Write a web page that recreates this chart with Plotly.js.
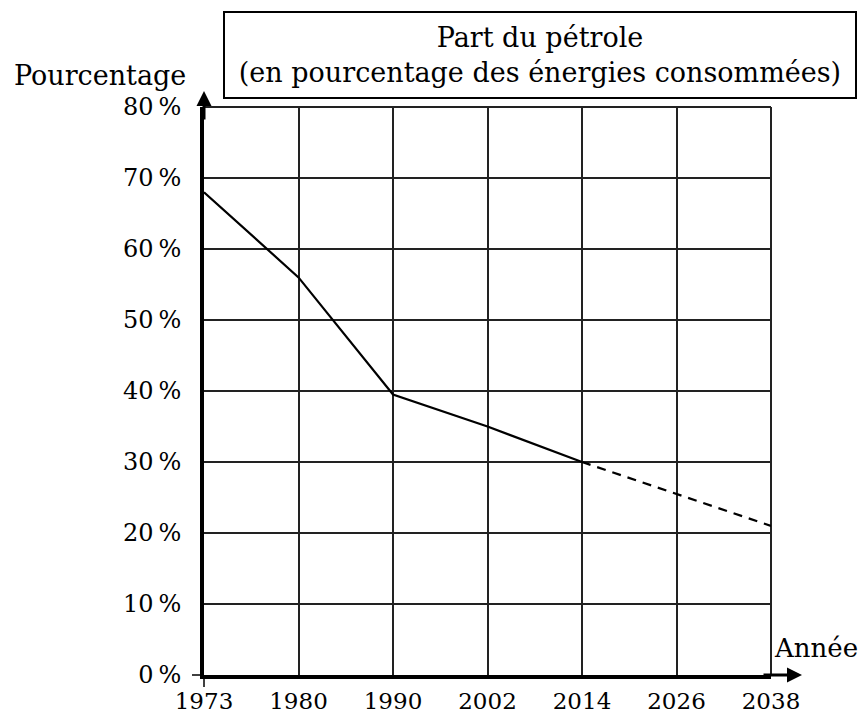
<!DOCTYPE html>
<html>
<head>
<meta charset="utf-8">
<script src="https://cdn.plot.ly/plotly-3.0.1.min.js"></script>
<style>html,body{margin:0;padding:0;background:#fff;}#chart{width:866px;height:713px;}</style>
</head>
<body>
<div id="chart"></div>
<script>
// Data
var years = ['1973', '1980', '1990', '2002', '2014', '2026', '2038'];
var observedYears = ['1973', '1980', '1990', '2002', '2014'];
var observedShare = [68, 56, 39.5, 35, 30];
var projectedYears = ['2014', '2026', '2038'];
var projectedShare = [30, 25.5, 21];
var yTicks = [0, 10, 20, 30, 40, 50, 60, 70, 80];

var FONT = 'DejaVu Serif, serif';
var L = 204, R = 95, T = 107, B = 38;
var W = 866 - L - R, H = 713 - T - B;
function px(xp) { return (xp - L) / W; }
function py(yp) { return (713 - B - yp) / H; }

var traces = [
  {x: observedYears, y: observedShare, type: 'scatter', mode: 'lines',
   line: {color: '#000', width: 2.2}, hoverinfo: 'x+y', showlegend: false},
  {x: projectedYears, y: projectedShare, type: 'scatter', mode: 'lines',
   line: {color: '#000', width: 2.2, dash: '9px,7px'}, hoverinfo: 'x+y', showlegend: false}
];

var layout = {
  width: 866, height: 713,
  margin: {l: L, r: R, t: T, b: B, pad: 0},
  paper_bgcolor: '#fff', plot_bgcolor: '#fff',
  font: {family: FONT, color: '#000', size: 23},
  showlegend: false,
  xaxis: {
    type: 'category', categoryorder: 'array', categoryarray: years,
    range: [0, 6], fixedrange: true,
    showgrid: true, gridcolor: '#222', gridwidth: 2,
    showline: true, linecolor: '#000', linewidth: 4,
    zeroline: false, ticks: '', ticklabelstandoff: 2,
    tickfont: {family: FONT, size: 23, color: '#000'}
  },
  yaxis: {
    range: [0, 80], fixedrange: true,
    tickvals: yTicks, ticktext: yTicks.map(function (v) { return v + '\u2009%'; }),
    showgrid: true, gridcolor: '#222', gridwidth: 2,
    showline: true, linecolor: '#000', linewidth: 4,
    zeroline: false, ticks: '', ticklabelstandoff: 14,
    tickfont: {family: FONT, size: 24, color: '#000'}
  },
  shapes: [
    // grid lines on the outer edges (top 80 % and right 2038)
    {type: 'line', xref: 'paper', yref: 'paper', x0: 0, x1: 1, y0: 1, y1: 1,
     line: {color: '#222', width: 2}, layer: 'below'},
    {type: 'line', xref: 'paper', yref: 'paper', x0: 1, x1: 1, y0: 0, y1: 1,
     line: {color: '#222', width: 2}, layer: 'below'},
    // small tick at the origin
    {type: 'line', xref: 'paper', yref: 'paper', x0: px(192), x1: px(204), y0: 0, y1: 0,
     line: {color: '#000', width: 1.5}},
    {type: 'line', xref: 'paper', yref: 'paper', x0: 0, x1: 0, y0: py(675), y1: py(687),
     line: {color: '#000', width: 1.5}}
  ],
  annotations: [
    {xref: 'paper', yref: 'paper', x: px(540), y: py(55), xanchor: 'center', yanchor: 'middle',
     text: 'Part du pétrole<br>(en pourcentage des énergies consommées)',
     showarrow: false, bordercolor: '#000', borderwidth: 2, borderpad: 2,
     width: 626, height: 80, bgcolor: '#fff',
     font: {family: FONT, size: 27, color: '#000'}},
    {xref: 'paper', yref: 'paper', x: px(188), y: py(76), xanchor: 'right', yanchor: 'middle',
     text: 'Pourcentage', showarrow: false, font: {family: FONT, size: 27, color: '#000'}},
    {xref: 'paper', yref: 'paper', x: px(772), y: py(648), xanchor: 'left', yanchor: 'middle',
     text: 'Année', showarrow: false, font: {family: FONT, size: 26, color: '#000'}},
    // axis arrow heads
    {xref: 'paper', yref: 'paper', x: 0, y: py(91), text: '', showarrow: true,
     axref: 'pixel', ayref: 'pixel', ax: 0, ay: 30, arrowhead: 2, arrowsize: 1, arrowwidth: 3, arrowcolor: '#000'},
    {xref: 'paper', yref: 'paper', x: px(802), y: 0, text: '', showarrow: true,
     axref: 'pixel', ayref: 'pixel', ax: -40, ay: 0, arrowhead: 2, arrowsize: 1, arrowwidth: 3, arrowcolor: '#000'}
  ]
};

Plotly.newPlot('chart', traces, layout, {displayModeBar: false, staticPlot: true});
</script>
</body>
</html>
